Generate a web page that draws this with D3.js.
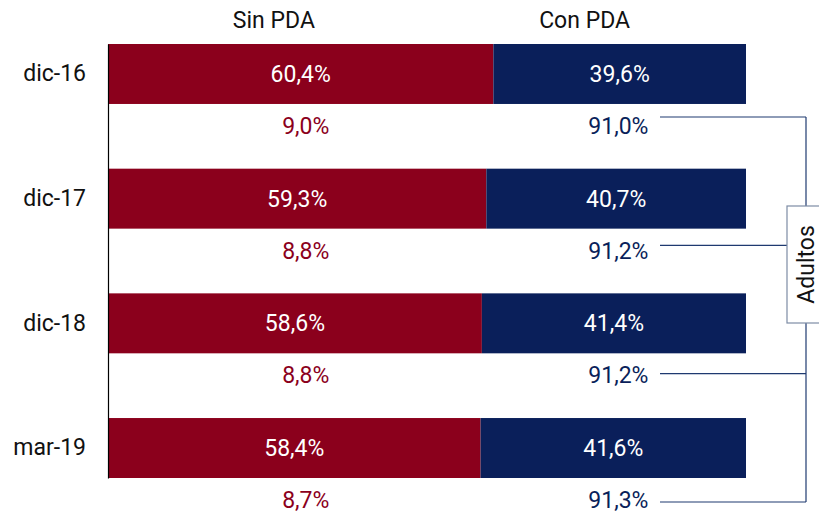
<!DOCTYPE html>
<html>
<head>
<meta charset="utf-8">
<script src="https://cdn.jsdelivr.net/npm/d3@7"></script>
<style>
  html, body { margin: 0; padding: 0; background: #fff; }
  svg text { font-family: Roboto, "Noto Sans", sans-serif; }
</style>
</head>
<body>
<div id="chart"></div>
<script>
// Data
const categories = ["dic-16", "dic-17", "dic-18", "mar-19"];
const sinPDA = [60.4, 59.3, 58.6, 58.4];
const conPDA = [39.6, 40.7, 41.4, 41.6];
const sinAdultos = [9.0, 8.8, 8.8, 8.7];
const conAdultos = [91.0, 91.2, 91.2, 91.3];
const seriesNames = ["Sin PDA", "Con PDA"];
const groupLabel = "Adultos";

const red = "#8B001C";
const blue = "#0A1F5A";
const fontSize = "23px";

const width = 819, height = 514;
const fmt = v => d3.format(".1f")(v).replace(".", ",") + "%";

const svg = d3.select("#chart").append("svg")
    .attr("width", width)
    .attr("height", height);

// Scales
const x = d3.scaleLinear().domain([0, 100]).range([108, 746]);
const y = d3.scaleBand()
    .domain(categories)
    .range([44, 478])
    .paddingInner(0.519)
    .paddingOuter(0);

const rows = categories.map((c, i) => ({
    cat: c, sin: sinPDA[i], con: conPDA[i], sinA: sinAdultos[i], conA: conAdultos[i]
}));

// Stacked bars
svg.selectAll(".bar-sin")
    .data(rows)
    .enter().append("rect")
    .attr("x", x(0))
    .attr("y", d => y(d.cat))
    .attr("width", d => x(d.sin) - x(0))
    .attr("height", y.bandwidth())
    .attr("fill", red);

svg.selectAll(".bar-con")
    .data(rows)
    .enter().append("rect")
    .attr("x", d => x(d.sin))
    .attr("y", d => y(d.cat))
    .attr("width", d => x(d.sin + d.con) - x(d.sin))
    .attr("height", y.bandwidth())
    .attr("fill", blue);

// Labels inside bars
svg.selectAll(".lbl-sin")
    .data(rows)
    .enter().append("text")
    .attr("x", d => x(d.sin / 2))
    .attr("y", d => y(d.cat) + y.bandwidth() / 2)
    .attr("dy", "0.35em")
    .attr("text-anchor", "middle")
    .style("font-size", fontSize)
    .style("fill", "#fff")
    .text(d => fmt(d.sin));

svg.selectAll(".lbl-con")
    .data(rows)
    .enter().append("text")
    .attr("x", d => x(d.sin + d.con / 2))
    .attr("y", d => y(d.cat) + y.bandwidth() / 2)
    .attr("dy", "0.35em")
    .attr("text-anchor", "middle")
    .style("font-size", fontSize)
    .style("fill", "#fff")
    .text(d => fmt(d.con));

// Adultos labels under each bar
const belowOffset = 52;
svg.selectAll(".lbl-sinA")
    .data(rows)
    .enter().append("text")
    .attr("x", x(31))
    .attr("y", d => y(d.cat) + y.bandwidth() / 2 + belowOffset)
    .attr("dy", "0.35em")
    .attr("text-anchor", "middle")
    .style("font-size", fontSize)
    .style("fill", red)
    .text(d => fmt(d.sinA));

svg.selectAll(".lbl-conA")
    .data(rows)
    .enter().append("text")
    .attr("x", x(80))
    .attr("y", d => y(d.cat) + y.bandwidth() / 2 + belowOffset)
    .attr("dy", "0.35em")
    .attr("text-anchor", "middle")
    .style("font-size", fontSize)
    .style("fill", blue)
    .text(d => fmt(d.conA));

// Left axis
const axis = svg.append("g")
    .attr("transform", `translate(${x(0)},0)`)
    .call(d3.axisLeft(y).tickSize(0).tickPadding(22));
axis.select(".domain").attr("stroke", "#000").attr("stroke-width", 1.2);
axis.selectAll("text")
    .style("font-size", fontSize)
    .style("font-family", "Roboto, sans-serif")
    .style("fill", "#111");

// Column headers
svg.selectAll(".hdr")
    .data(seriesNames)
    .enter().append("text")
    .attr("x", (d, i) => x(i === 0 ? 26 : 74.7))
    .attr("y", 20)
    .attr("dy", "0.35em")
    .attr("text-anchor", "middle")
    .style("font-size", fontSize)
    .style("fill", "#111")
    .text(d => d);

// Bracket grouping the "Con PDA" adult shares
const bx = 806;
const lineStart = 660;
const lineY = d3.scaleLinear().domain([0, categories.length - 1]).range([117, 502]);
const ys = rows.map((d, i) => lineY(i));
svg.selectAll(".brk")
    .data(ys)
    .enter().append("line")
    .attr("x1", lineStart)
    .attr("x2", bx)
    .attr("y1", d => d)
    .attr("y2", d => d)
    .attr("stroke", "#1F3A70")
    .attr("stroke-width", 1.2);

svg.append("line")
    .attr("x1", bx).attr("x2", bx)
    .attr("y1", d3.min(ys)).attr("y2", d3.max(ys))
    .attr("stroke", "#1F3A70")
    .attr("stroke-width", 1.2);

svg.append("rect")
    .attr("x", 787)
    .attr("y", 206)
    .attr("width", 40)
    .attr("height", 117)
    .attr("fill", "#fff")
    .attr("stroke", "#7D8CA5")
    .attr("stroke-width", 1.2);

svg.append("text")
    .attr("transform", `translate(${bx},${264.5}) rotate(-90)`)
    .attr("dy", "0.35em")
    .attr("text-anchor", "middle")
    .style("font-size", fontSize)
    .style("fill", "#111")
    .text(groupLabel);
</script>
</body>
</html>
